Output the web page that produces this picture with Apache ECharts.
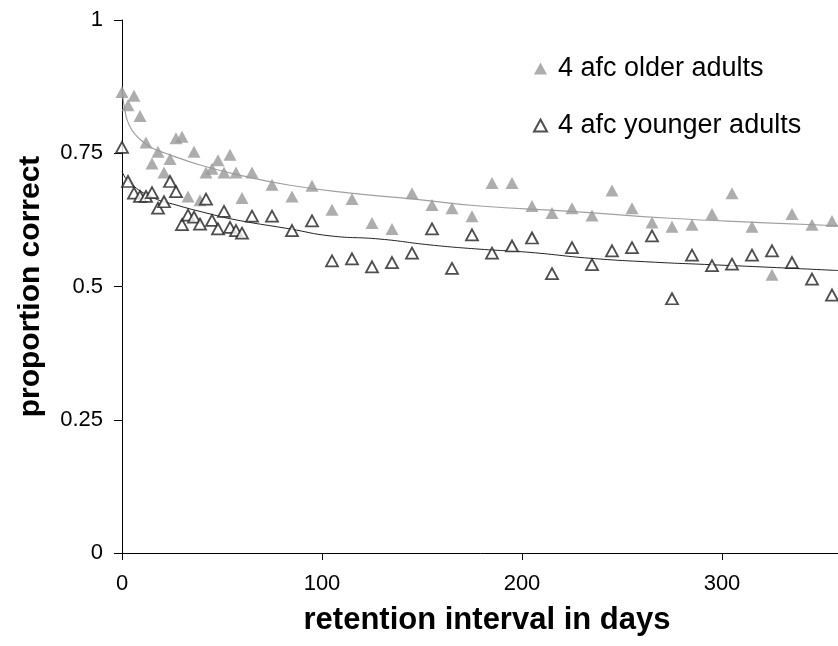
<!DOCTYPE html>
<html>
<head>
<meta charset="utf-8">
<script src="https://cdn.jsdelivr.net/npm/echarts@6/dist/echarts.min.js"></script>
<style>
  html, body { margin: 0; padding: 0; background: #fff; }
  #chart { width: 838px; height: 646px; }
</style>
</head>
<body>
<div id="chart"></div>
<script>
// retention days (same for both groups)
const days = [0, 3, 6, 9, 12, 15, 18, 21, 24, 27, 30, 33, 36, 39, 42, 45, 48, 51, 54, 57, 60, 65, 75,
  85, 95, 105, 115, 125, 135, 145, 155, 165, 175, 185, 195, 205, 215, 225, 235, 245, 255, 265, 275,
  285, 295, 305, 315, 325, 335, 345, 355]

const olderValues = [0.865, 0.84, 0.858, 0.82, 0.770, 0.731, 0.753, 0.714, 0.739, 0.778, 0.781, 0.669,
  0.753, 0.662, 0.714, 0.721, 0.737, 0.714, 0.747, 0.714, 0.666, 0.714, 0.691,
  0.669, 0.689, 0.644, 0.664, 0.619, 0.608, 0.675, 0.653, 0.647, 0.632, 0.694, 0.694, 0.651, 0.638,
  0.647, 0.633, 0.680, 0.647, 0.620, 0.612, 0.616, 0.636, 0.675, 0.612, 0.522, 0.636, 0.616, 0.623]

const youngerValues = [0.761, 0.697, 0.675, 0.669, 0.669, 0.676, 0.647, 0.659, 0.697, 0.678, 0.616, 0.634,
  0.630, 0.617, 0.664, 0.624, 0.608, 0.641, 0.611, 0.605, 0.600, 0.632, 0.632,
  0.605, 0.623, 0.548, 0.552, 0.537, 0.545, 0.5625, 0.608, 0.534, 0.597, 0.5625, 0.576, 0.591, 0.524,
  0.573, 0.541, 0.567, 0.573, 0.595, 0.477, 0.559, 0.539, 0.542, 0.559, 0.567, 0.545, 0.514, 0.484]

// fitted trend lines
const olderFitDays = [0, 2, 4, 6, 10, 15, 24, 39, 61, 84, 112, 146, 179, 224, 274, 319, 358]
const olderFitValues = [0.87, 0.82, 0.80, 0.788, 0.773, 0.76, 0.747, 0.728, 0.707, 0.690, 0.676, 0.664,
  0.651, 0.641, 0.628, 0.620, 0.614]
const youngerFitDays = [0, 4, 16, 27, 42, 57, 84, 104, 129, 154, 179, 204, 234, 264, 294, 324, 358]
const youngerFitValues = [0.716, 0.694, 0.666, 0.653, 0.638, 0.625, 0.608, 0.595, 0.589, 0.578, 0.570,
  0.564, 0.553, 0.546, 0.541, 0.536, 0.530]

const seriesNames = ['4 afc older adults', '4 afc younger adults']

const pair = (xs, ys) => xs.map((x, i) => [x, ys[i]])
const font = 'Liberation Sans, Arial, sans-serif'

const chart = echarts.init(document.getElementById('chart'))
chart.setOption({
  animation: false,
  backgroundColor: '#fff',
  // x runs to 365 days, the right end falls off the picture like in the original
  grid: { left: 122, top: 20, width: 730, height: 533, outerBoundsMode: 'none' },
  legend: {
    data: seriesNames,
    orient: 'vertical',
    left: 528,
    top: 50,
    itemGap: 30,
    itemWidth: 13,
    itemHeight: 12,
    textStyle: { fontFamily: font, fontSize: 27, color: '#000', padding: [0, 0, 0, 6] }
  },
  xAxis: {
    type: 'value',
    min: 0,
    max: 365,
    interval: 100,
    name: 'retention interval in days',
    nameLocation: 'middle',
    nameGap: 52,
    nameTextStyle: { fontFamily: font, fontSize: 31, fontWeight: 'bold', color: '#000' },
    axisLine: { show: true, lineStyle: { color: '#000', width: 1 } },
    axisTick: { show: true, length: 7, lineStyle: { color: '#000' } },
    axisLabel: { fontFamily: font, fontSize: 22, color: '#000', margin: 20, showMaxLabel: false },
    splitLine: { show: false }
  },
  yAxis: {
    type: 'value',
    min: 0,
    max: 1,
    interval: 0.25,
    name: 'proportion correct',
    nameLocation: 'middle',
    nameGap: 76,
    nameTextStyle: { fontFamily: font, fontSize: 30, fontWeight: 'bold', color: '#000' },
    axisLine: { show: true, lineStyle: { color: '#000', width: 1 } },
    axisTick: { show: true, length: 8, lineStyle: { color: '#000' } },
    axisLabel: { fontFamily: font, fontSize: 22, color: '#000', margin: 19 },
    splitLine: { show: false }
  },
  series: [
    {
      name: seriesNames[0] + ' fit',
      type: 'line',
      data: pair(olderFitDays, olderFitValues),
      smooth: true,
      symbol: 'none',
      lineStyle: { color: '#a0a0a0', width: 1.2 },
      z: 1
    },
    {
      name: seriesNames[1] + ' fit',
      type: 'line',
      data: pair(youngerFitDays, youngerFitValues),
      smooth: true,
      symbol: 'none',
      lineStyle: { color: '#222', width: 1 },
      z: 1
    },
    {
      name: seriesNames[0],
      type: 'scatter',
      data: pair(days, olderValues),
      symbol: 'triangle',
      symbolSize: [13, 12],
      itemStyle: { color: '#999999' },
      z: 3
    },
    {
      name: seriesNames[1],
      type: 'scatter',
      data: pair(days, youngerValues),
      symbol: 'triangle',
      symbolSize: [12, 11],
      itemStyle: { color: '#fff', borderColor: '#222', borderWidth: 1.8 },
      z: 4
    }
  ]
})
</script>
</body>
</html>
